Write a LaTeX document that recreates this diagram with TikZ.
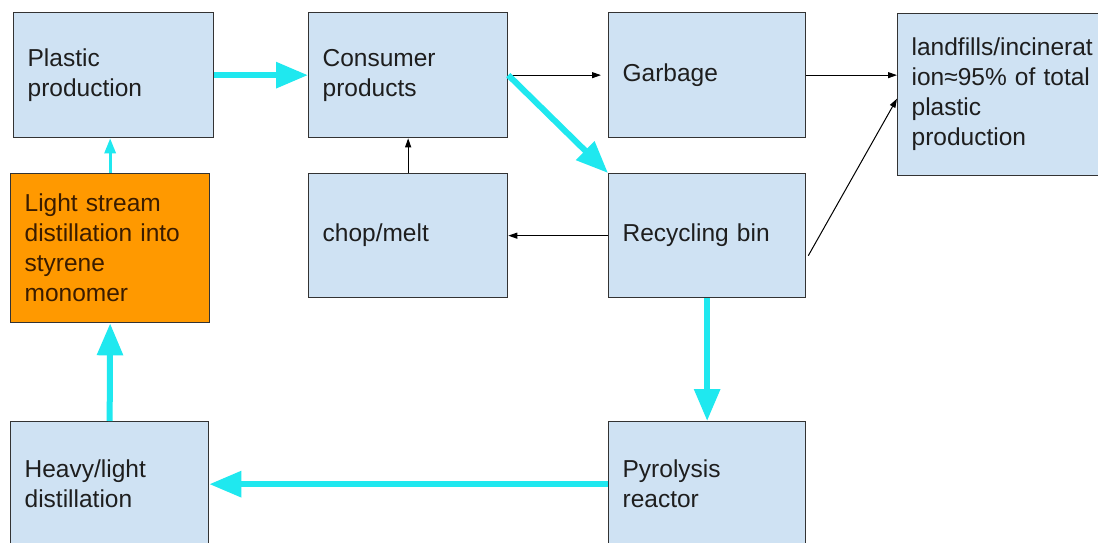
\documentclass[tikz,border=0pt]{standalone}
\usepackage{fontspec}
\setmainfont{Liberation Sans}
\usetikzlibrary{arrows.meta,calc}
\definecolor{boxblue}{HTML}{CFE2F3}
\definecolor{boxorange}{HTML}{FF9900}
\definecolor{flowcyan}{HTML}{1FE8EF}
\definecolor{edgegrey}{HTML}{333333}
\definecolor{txtgrey}{HTML}{1E1E1E}
\definecolor{txtbrown}{HTML}{3A1C00}
\tikzset{
  stagebox/.style={draw=edgegrey, line width=1.3pt, fill=boxblue, rectangle,
    anchor=north west, inner xsep=14pt, inner ysep=0pt, align=left,
    text=txtgrey, font=\fontsize{24.5}{30}\selectfont},
  hotbox/.style={stagebox, fill=boxorange, text=txtbrown},
  flow/.style={draw=flowcyan, line width=6pt, -{Triangle[length=32pt,width=25pt]}},
  thinflow/.style={draw=flowcyan, line width=3pt, -{Triangle[length=15pt,width=11pt]}},
  link/.style={draw=black, line width=1pt, -{Triangle[length=9pt,width=6pt]}}
}
\begin{document}
\begin{tikzpicture}[x=1pt,y=-1pt]
\useasboundingbox (0,0) rectangle (1098,542);
\fill[white] (0,0) rectangle (1098,542);
\clip (0,0) rectangle (1098,542);
\node[stagebox, minimum width=200, text width=172, minimum height=125] (plastic) at (13,12) {Plastic\\production};
\node[stagebox, minimum width=199, text width=171, minimum height=125] (consumer) at (308,12) {Consumer\\products};
\node[stagebox, minimum width=197, text width=169, minimum height=125] (garbage) at (608,12) {Garbage};
\node[stagebox, minimum width=215, text width=187, minimum height=162] (landfill) at (897,13) {landfills/incinerat\\ion≈95\% of total\\plastic\\production};
\node[hotbox, minimum width=199, text width=171, minimum height=149] (light) at (10,173) {Light stream\\distillation into\\styrene\\monomer};
\node[stagebox, minimum width=199, text width=171, minimum height=124] (chop) at (308,173) {chop/melt};
\node[stagebox, minimum width=197, text width=169, minimum height=124] (recycle) at (608,173) {Recycling bin};
\node[stagebox, minimum width=198, text width=170, minimum height=125] (heavy) at (10,421) {Heavy/light\\distillation};
\node[stagebox, minimum width=197, text width=169, minimum height=125] (pyro) at (608,421) {Pyrolysis\\reactor};

\draw[flow] (plastic.east) -- (consumer.east -| consumer.west);
\draw[link, shorten >=7pt] (consumer.east) -- (garbage.west);
\draw[flow] (consumer.east) -- (recycle.north west);
\draw[link] (garbage.east) -- (garbage.east -| landfill.west);
\draw[link] ($(recycle.east)+(2,20)$) -- ($(landfill.west)+(0,4)$);
\draw[link] (recycle.west) -- (chop.east);
\draw[link] (chop.north) -- (consumer.south);
\draw[flow] (recycle.south) -- (pyro.north);
\draw[flow] (pyro.west) -- (heavy.east);
\draw[flow] (heavy.north) -- (light.south);
\draw[thinflow] (light.north) -- (light.north |- plastic.south);
\end{tikzpicture}
\end{document}
